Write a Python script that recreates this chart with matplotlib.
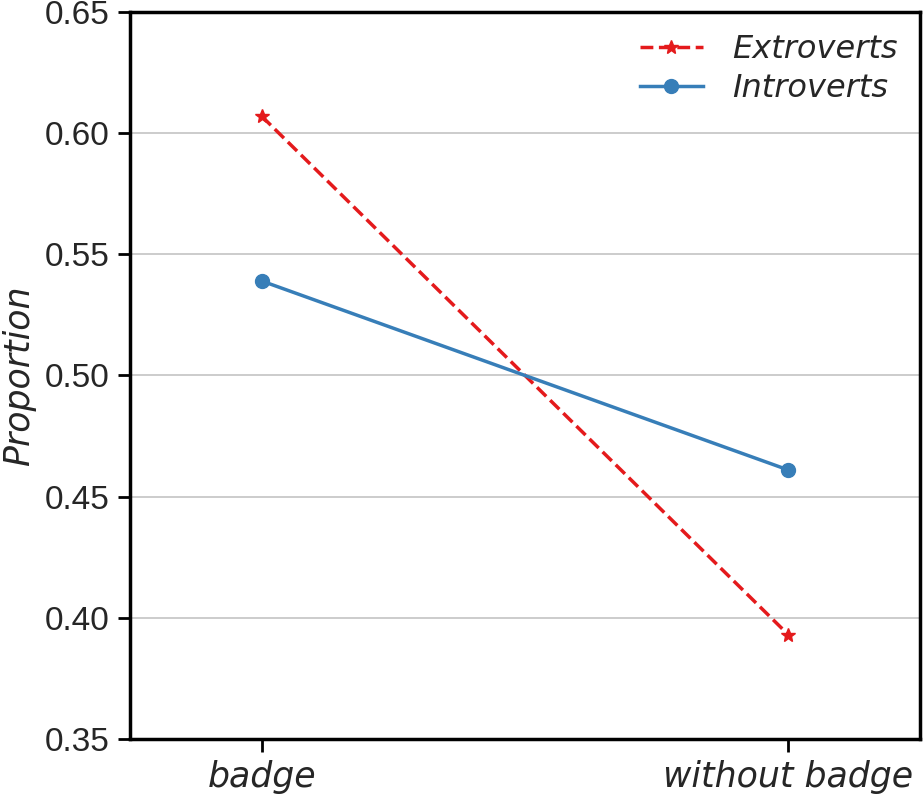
import matplotlib.pyplot as plt

# condition labels on the x axis
conditions = ['badge', 'without badge']
# proportion per group
extroverts = [0.607, 0.393]
introverts = [0.539, 0.461]
yticks = [0.35, 0.40, 0.45, 0.50, 0.55, 0.60, 0.65]


def main():
    fig = plt.figure(figsize=(9.24, 8), dpi=100)
    ax = fig.add_axes([0.1407, 0.0763, 0.855, 0.9087])

    xs = list(range(len(conditions)))
    ax.plot(xs, extroverts, color='#e41a1c', linestyle='--', linewidth=2.5,
            marker='*', markersize=10, label='Extroverts', zorder=3)
    ax.plot(xs, introverts, color='#377eb8', linestyle='-', linewidth=2.5,
            marker='o', markersize=10, label='Introverts', zorder=3)

    ax.set_xlim(-0.25, 1.25)
    ax.set_ylim(0.35, 0.65)
    ax.set_xticks(xs)
    ax.set_xticklabels(conditions, fontsize=25, style='italic',
                       family='DejaVu Sans', color='#262626')
    ax.set_yticks(yticks)
    ax.set_yticklabels(['%.2f' % v for v in yticks], fontsize=24,
                       family='Liberation Sans', color='#262626')
    ax.set_ylabel('Proportion', fontsize=25, style='italic',
                  family='DejaVu Sans', color='#262626', labelpad=6)

    ax.grid(axis='y', color='#cccccc', linewidth=1.4)
    ax.set_axisbelow(True)
    for sp in ax.spines.values():
        sp.set_linewidth(2.5)
        sp.set_color('black')
    ax.tick_params(axis='both', length=9, width=2, direction='out', pad=6)

    leg = ax.legend(loc='upper right', frameon=False,
                    prop={'family': 'DejaVu Sans', 'style': 'italic', 'size': 23},
                    handlelength=2.0, handletextpad=0.9, borderaxespad=0.3,
                    labelspacing=0.25)
    for t in leg.get_texts():
        t.set_color('#262626')

    fig.savefig('out.png', dpi=100)


if __name__ == "__main__":
    main()
